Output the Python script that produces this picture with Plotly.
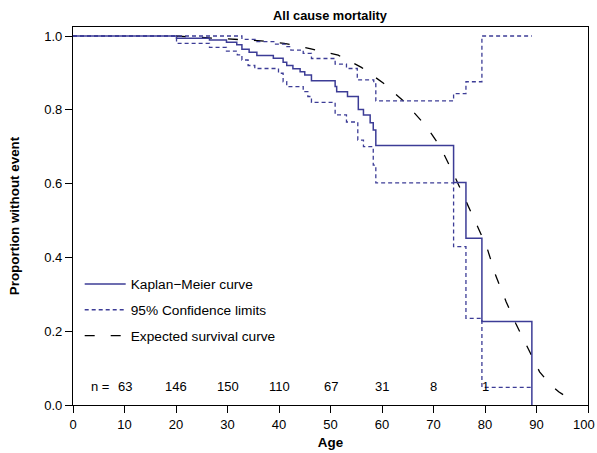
import plotly.graph_objects as go

# Kaplan-Meier estimate (step function)
km_age = [0, 20.1, 26.5, 29.8, 31.8, 32.8, 34.2, 35.7, 38.9, 40.8, 41.5, 42.7, 44.1, 45.0,
          46.3, 50.9, 51.2, 53.3, 55.4, 56.4, 57.7, 58.3, 58.8, 73.9, 76.3, 79.4, 89.1, 89.1]
km_surv = [1.0, 0.994, 0.989, 0.983, 0.976, 0.964, 0.956, 0.947, 0.940, 0.929, 0.920, 0.911, 0.903, 0.894,
           0.879, 0.863, 0.849, 0.836, 0.801, 0.786, 0.765, 0.745, 0.703, 0.603, 0.452, 0.226, 0.226, 0.0]

# 95% confidence limits
up_age = [0, 32.8, 35.7, 39.2, 41.2, 42.3, 44.7, 46.3, 50.9, 53.1, 55.2, 58.4, 58.8, 73.9, 76.3, 79.4, 89.1]
up_surv = [1.0, 0.991, 0.985, 0.978, 0.971, 0.962, 0.953, 0.939, 0.924, 0.912, 0.881, 0.870, 0.824, 0.844, 0.876, 1.0, 1.0]

lo_age = [0, 20.1, 26.5, 29.8, 31.9, 32.8, 34.0, 35.3, 39.9, 40.8, 41.5, 44.7, 45.6, 46.3, 50.9, 53.1,
          55.3, 56.4, 58.3, 58.8, 73.9, 76.3, 79.4, 89.1]
lo_surv = [1.0, 0.980, 0.969, 0.959, 0.949, 0.935, 0.920, 0.912, 0.899, 0.876, 0.863, 0.849, 0.836, 0.820, 0.786, 0.767,
           0.718, 0.700, 0.650, 0.602, 0.429, 0.235, 0.048, 0.048]

# Expected survival curve
exp_age = [20, 30.5, 36.5, 41, 46, 51.5, 56, 60.3, 64.3, 68.5, 71.3, 74.1, 76.1, 78.2, 80.3, 82.1,
           84.1, 86, 88.3, 90.6, 92.5, 94.3, 95.5]
exp_surv = [1.0, 0.992, 0.987, 0.980, 0.966, 0.948, 0.915, 0.872, 0.822, 0.757, 0.700, 0.620, 0.560, 0.495, 0.430, 0.350,
            0.280, 0.220, 0.155, 0.090, 0.058, 0.036, 0.025]

# Numbers at risk
risk_age = [10, 20, 30, 40, 50, 60, 70, 80]
risk_n = ["63", "146", "150", "110", "67", "31", "8", "1"]

x_ticks = [0, 10, 20, 30, 40, 50, 60, 70, 80, 90, 100]
x_ticktext = ["0", "10", "20", "30", "40", "50", "60", "70", "80", "90", ""]
x_last_label = "100"  # drawn right-aligned at the figure edge so it is not clipped
y_ticks = [0.0, 0.2, 0.4, 0.6, 0.8, 1.0]
y_ticktext = ["0.0", "0.2", "0.4", "0.6", "0.8", "1.0"]

BLUE = "#3c3c96"
FONT = "Liberation Sans, Arial, sans-serif"

fig = go.Figure()
fig.add_trace(go.Scatter(x=exp_age, y=exp_surv, mode="lines", name="Expected survival curve",
                         line=dict(color="black", width=1.3, dash="10px,16px"),
                         legendrank=3, legendgroup="c"))
fig.add_trace(go.Scatter(x=up_age, y=up_surv, mode="lines", name="95% Confidence limits",
                         line=dict(color=BLUE, width=1.3, dash="4px,3px", shape="hv"),
                         legendrank=2, legendgroup="b"))
fig.add_trace(go.Scatter(x=lo_age, y=lo_surv, mode="lines", showlegend=False,
                         line=dict(color=BLUE, width=1.3, dash="4px,3px", shape="hv"), legendgroup="b"))
fig.add_trace(go.Scatter(x=km_age, y=km_surv, mode="lines", name="Kaplan\u2212Meier curve",
                         line=dict(color=BLUE, width=1.5, shape="hv"),
                         legendrank=1, legendgroup="a"))

for a, n in zip(risk_age, risk_n):
    fig.add_annotation(x=a, y=0.049, text=n, showarrow=False, xref="x", yref="y",
                       font=dict(size=13, color="black", family=FONT))
fig.add_annotation(x=7.4, y=0.049, text="n =", showarrow=False, xref="x", yref="y", xanchor="right",
                   font=dict(size=13, color="black", family=FONT))
fig.add_annotation(x=1, y=0, xref="paper", yref="paper", text=x_last_label, showarrow=False,
                   xanchor="right", yanchor="middle", xshift=8, yshift=-19, borderpad=0,
                   font=dict(size=13, color="black", family=FONT))

fig.update_layout(
    width=597, height=453,
    margin=dict(l=73, r=9, t=27, b=48, autoexpand=False),
    paper_bgcolor="white", plot_bgcolor="white",
    font=dict(family=FONT, size=13, color="black"),
    title=dict(text="<b>All cause mortality</b>", x=0.5528, xanchor="center", y=0.9647, yanchor="middle",
               font=dict(size=12.8, family=FONT, color="black"), automargin=False),
    showlegend=True,
    legend=dict(x=0.013, y=0.361, xanchor="left", yanchor="top", bgcolor="rgba(0,0,0,0)",
                font=dict(size=13.7, family=FONT, color="black"), tracegroupgap=5,
                traceorder="grouped", itemwidth=41),
    xaxis=dict(range=[0, 100], tickvals=x_ticks, ticktext=x_ticktext, ticks="outside", ticklen=7,
               tickcolor="black",
               showline=True, linecolor="black", linewidth=1.3, mirror=True, showgrid=False, zeroline=False,
               tickfont=dict(size=13), automargin=False,
               title=dict(text="<b>Age</b>", font=dict(size=13.4), standoff=6)),
    yaxis=dict(range=[0, 1.0244], tickvals=y_ticks, ticktext=y_ticktext,
               ticks="outside", ticklen=7, tickcolor="black",
               showline=True, linecolor="black", linewidth=1.3, mirror=True, showgrid=False, zeroline=False,
               tickfont=dict(size=13), automargin=False,
               title=dict(text="<b>Proportion without event</b>", font=dict(size=13.4), standoff=21)),
)

fig.write_html("out.html", config={"displayModeBar": False},
               post_script="document.body.style.margin='0';document.documentElement.style.overflow='hidden';")
